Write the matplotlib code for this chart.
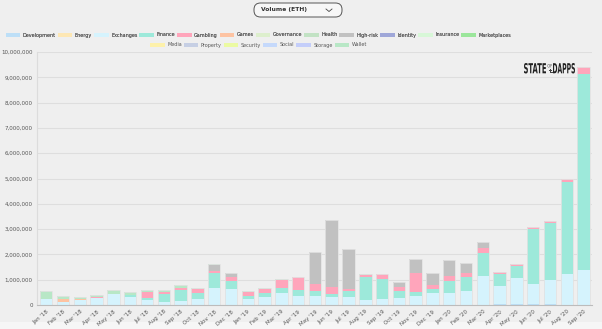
import matplotlib.pyplot as plt
import numpy as np
from matplotlib import font_manager as fm
from matplotlib.patches import FancyBboxPatch, Patch, Rectangle, PathPatch
from matplotlib.lines import Line2D
from matplotlib.textpath import TextPath
from matplotlib.transforms import Affine2D
from matplotlib.ticker import FuncFormatter

# monthly volume by category, millions of ETH
months = ["Jan '18", "Feb '18", "Mar '18", "Apr '18", "May '18", "Jun '18",
          "Jul '18", "Aug '18", "Sep '18", "Oct '18", "Nov '18", "Dec '18",
          "Jan '19", "Feb '19", "Mar '19", "Apr '19", "May '19", "Jun '19",
          "Jul '19", "Aug '19", "Sep '19", "Oct '19", "Nov '19", "Dec '19",
          "Jan '20", "Feb '20", "Mar '20", "Apr '20", "May '20", "Jun '20",
          "Jul '20", "Aug '20", "Sep '20"]

development = [0, 0, 0, 0, 0, 0, 0, 0, 0, 0, 0, 0,
               0, 0, 0, 0, 0, 0, 0, 0, 0, 0, 0, 0,
               0, 0, 0, 0.03, 0.05, 0.04, 0.04, 0, 0]
exchanges = [0.24, 0.13, 0.20, 0.27, 0.43, 0.32, 0.20, 0.13, 0.17, 0.25, 0.66, 0.63,
             0.22, 0.33, 0.49, 0.37, 0.37, 0.33, 0.32, 0.21, 0.24, 0.29, 0.37, 0.49,
             0.47, 0.57, 1.15, 0.72, 1.00, 0.78, 0.95, 1.21, 1.40]
finance = [0, 0, 0, 0, 0.02, 0.07, 0.09, 0.29, 0.43, 0.23, 0.59, 0.32,
           0.14, 0.13, 0.17, 0.21, 0.18, 0.12, 0.23, 0.91, 0.79, 0.26, 0.15, 0.16,
           0.48, 0.55, 0.89, 0.48, 0.48, 2.18, 2.26, 3.64, 7.73]
gambling = [0, 0, 0, 0.03, 0, 0, 0.24, 0.08, 0.09, 0.15, 0.09, 0.17,
            0.17, 0.17, 0.33, 0.53, 0.28, 0.25, 0.09, 0.07, 0.19, 0.18, 0.75, 0.14,
            0.21, 0.13, 0.20, 0.09, 0.08, 0.08, 0.07, 0.15, 0.26]
games = [0, 0.09, 0.03, 0, 0, 0, 0, 0, 0, 0, 0, 0,
         0, 0, 0, 0, 0, 0, 0, 0, 0, 0, 0, 0,
         0, 0, 0, 0, 0, 0, 0, 0, 0]
high_risk = [0, 0, 0, 0, 0, 0, 0, 0, 0, 0, 0.25, 0.16,
             0, 0, 0, 0, 1.25, 2.65, 1.59, 0, 0, 0.19, 0.54, 0.46,
             0.63, 0.40, 0.24, 0, 0, 0, 0, 0, 0]
wallet = [0.32, 0.15, 0.09, 0.10, 0.15, 0.13, 0.07, 0.10, 0.12, 0.04, 0.03, 0,
          0.03, 0.03, 0.02, 0, 0, 0, 0, 0.03, 0, 0, 0, 0,
          0, 0, 0, 0, 0, 0, 0, 0, 0]

legend_names = ["Development", "Energy", "Exchanges", "Finance", "Gambling", "Games",
                "Governance", "Health", "High-risk", "Identity", "Insurance",
                "Marketplaces", "Media", "Property", "Security", "Social",
                "Storage", "Wallet"]
legend_colors = ["#bddff7", "#fde7b4", "#d5f3fd", "#9de9da", "#ffa5bb", "#fdc3a2",
                 "#ddefcd", "#c2e2c4", "#c1c1c1", "#9fa7d8", "#d7f7d7",
                 "#9be69b", "#fdf1ab", "#c6cfe4", "#ebfaa2", "#c5d9fb",
                 "#c4cefa", "#b8e7c6"]
col = dict(zip(legend_names, legend_colors))

installed = {f.name for f in fm.fontManager.ttflist}
logo_family = "Liberation Sans Narrow" if "Liberation Sans Narrow" in installed else "DejaVu Sans"

bg = "#efefef"
fig = plt.figure(figsize=(6.02, 3.29), dpi=100, facecolor=bg)
ax = fig.add_axes([37 / 602, 24 / 329, 555 / 602, 253 / 329])
ax.set_facecolor(bg)

x = np.arange(len(months))
series = [("Development", development), ("Exchanges", exchanges),
          ("Finance", finance), ("Gambling", gambling), ("Games", games),
          ("High-risk", high_risk), ("Wallet", wallet)]
bottom = np.zeros(len(months))
for name, vals in series:
    v = np.array(vals) * 1e6
    ax.bar(x, v, width=0.74, bottom=bottom, color=col[name], edgecolor="none")
    bottom += v
# thin outline round each stacked column
ax.bar(x, bottom, width=0.74, fill=False, edgecolor="#e2e2e2", linewidth=0.6)

ax.set_xlim(-0.55, len(months) - 0.5)
ax.set_ylim(0, 10e6)
ax.set_yticks(np.arange(0, 10e6 + 1, 1e6))
ax.yaxis.set_major_formatter(FuncFormatter(lambda v, p: f"{int(v):,}"))
ax.grid(axis="y", color="#dedede", linewidth=0.8)
ax.set_axisbelow(True)
ax.set_xticks(x)
ax.set_xticklabels(months, rotation=40, ha="right", rotation_mode="anchor")
ax.tick_params(axis="both", labelsize=4, colors="#555555", length=0, pad=3)
for s in ["top", "right"]:
    ax.spines[s].set_visible(False)
ax.spines["left"].set_color("#dcdcdc")
ax.spines["bottom"].set_color("#bcbcbc")
ax.spines["left"].set_linewidth(0.8)
ax.spines["bottom"].set_linewidth(0.8)

# lighter strip along the bottom edge
fig.patches.append(Rectangle((0, 0), 1, 7 / 329, transform=fig.transFigure,
                             facecolor="#f6f6f6", edgecolor="none", zorder=-1))

# legend in two centred rows
handles = [Patch(facecolor=c, edgecolor="none") for c in legend_colors]
kw = dict(frameon=False, fontsize=3.5, handlelength=3.0, handleheight=1.0,
          handletextpad=0.5, columnspacing=0.4, borderpad=0, labelcolor="#555555")
leg1 = fig.legend(handles[:12], legend_names[:12], ncol=12, loc="center",
                  bbox_to_anchor=(258.5 / 602, 1 - 35 / 329), **kw)
fig.legend(handles[12:], legend_names[12:], ncol=6, loc="center",
           bbox_to_anchor=(258.5 / 602, 1 - 45 / 329), **kw)
fig.add_artist(leg1)

# dropdown selector, laid out in inches
box = FancyBboxPatch((2.54, 3.29 - 0.17), 0.88, 0.14,
                     boxstyle="round,pad=0,rounding_size=0.065",
                     transform=fig.dpi_scale_trans, facecolor="#f7f7f7",
                     edgecolor="#555555", linewidth=0.7)
fig.patches.append(box)
fig.text(261 / 602, 1 - 10 / 329, "Volume (ETH)", fontsize=4.3, weight="bold",
         color="#333333", va="center", ha="left")
fig.lines.append(Line2D([326 / 602, 329 / 602, 332 / 602],
                        [1 - 9 / 329, 1 - 11.5 / 329, 1 - 9 / 329],
                        transform=fig.transFigure, color="#444444", linewidth=0.6))


def squeezed_word(word, x0, y0, w, h, weight="bold", color="#222222"):
    # draw a word as a path stretched into a w x h box (pixels, top-left origin)
    tp = TextPath((0, 0), word, size=10,
                  prop=fm.FontProperties(family=logo_family, weight=weight))
    ext = tp.get_extents()
    tr = (Affine2D().translate(-ext.x0, -ext.y0)
          .scale(w / ext.width / 100, h / ext.height / 100)
          .translate(x0 / 100, (329 - y0 - h) / 100))
    fig.patches.append(PathPatch(tp, transform=tr + fig.dpi_scale_trans,
                                 facecolor=color, edgecolor="none", lw=0))


# logo
squeezed_word("STATE", 524, 63, 22, 10.5)
squeezed_word("OF", 547.5, 64, 4.5, 3.5, weight="normal", color="#444444")
squeezed_word("THE", 547, 69, 5.5, 3.5, weight="normal", color="#444444")
squeezed_word("DAPPS", 553, 63, 22, 10.5)

fig.savefig("out.png", dpi=100, facecolor=bg)
